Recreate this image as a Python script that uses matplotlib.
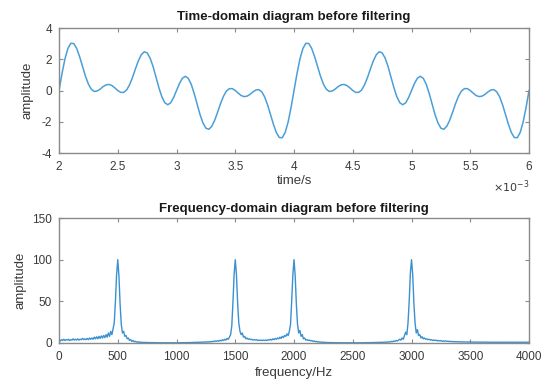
import numpy as np
import matplotlib
matplotlib.use("Agg")
import matplotlib.pyplot as plt
from matplotlib.ticker import FuncFormatter

plt.rcParams["font.family"] = ["Liberation Sans", "DejaVu Sans"]
plt.rcParams["axes.unicode_minus"] = False

# ── Data ─────────────────────────────────────────────────────────
# time-domain curve, sampled every 0.025 ms from 2 ms to 6 ms
time_start_ms = 2.0
time_step_ms = 0.025
signal = [
    0.00, 1.07, 2.01, 2.68, 3.02, 3.01, 2.70, 2.17, 1.54, 0.92,
    0.41, 0.08, -0.06, -0.03, 0.09, 0.25, 0.36, 0.39, 0.32, 0.17,
    0.00, -0.12, -0.12, 0.03, 0.36, 0.83, 1.38, 1.90, 2.29, 2.48,
    2.41, 2.08, 1.54, 0.87, 0.18, -0.40, -0.78, -0.91, -0.79, -0.45,
    0.00, 0.45, 0.79, 0.91, 0.78, 0.40, -0.18, -0.87, -1.54, -2.08,
    -2.41, -2.48, -2.29, -1.90, -1.38, -0.83, -0.36, -0.03, 0.12, 0.12,
    0.00, -0.17, -0.32, -0.39, -0.36, -0.25, -0.09, 0.03, 0.06, -0.08,
    -0.41, -0.92, -1.54, -2.17, -2.70, -3.01, -3.02, -2.68, -2.01, -1.07,
    0.00, 1.07, 2.01, 2.68, 3.02, 3.01, 2.70, 2.17, 1.54, 0.92,
    0.41, 0.08, -0.06, -0.03, 0.09, 0.25, 0.36, 0.39, 0.32, 0.17,
    0.00, -0.12, -0.12, 0.03, 0.36, 0.83, 1.38, 1.90, 2.29, 2.48,
    2.41, 2.08, 1.54, 0.87, 0.18, -0.40, -0.78, -0.91, -0.79, -0.45,
    0.00, 0.45, 0.79, 0.91, 0.78, 0.40, -0.18, -0.87, -1.54, -2.08,
    -2.41, -2.48, -2.29, -1.90, -1.38, -0.83, -0.36, -0.03, 0.12, 0.12,
    0.00, -0.17, -0.32, -0.39, -0.36, -0.25, -0.09, 0.03, 0.06, -0.08,
    -0.41, -0.92, -1.54, -2.17, -2.70, -3.01, -3.02, -2.68, -2.01, -1.07,
    0.00,
]

# spectrum magnitude, every 10 Hz from 0 to 4000 Hz
freq_step_hz = 10
spectrum = [
    3.5, 2.5, 4, 3, 4.5, 3, 4, 3.5, 4.5, 3,
    4, 3.5, 5, 3.5, 4.5, 3.5, 5, 3.5, 4.5, 4,
    5.5, 4, 5, 4, 5.5, 4, 6, 4.5, 6, 4.5,
    7, 5, 7.5, 5, 8, 5.5, 8.5, 6, 9, 6.5,
    10, 7, 12, 8, 14, 10, 17, 24, 50, 82,
    100, 80, 46, 22, 12, 14, 8, 9, 5, 6,
    3, 4, 2, 3, 1.5, 2, 1, 1.5, 0.8, 1.2,
    0.6, 0.9, 0.5, 0.8, 0.4, 0.7, 0.4, 0.6, 0.3, 0.5,
    0.3, 0.5, 0.3, 0.4, 0.2, 0.4, 0.2, 0.4, 0.2, 0.3,
    0.2, 0.3, 0.2, 0.3, 0.2, 0.3, 0.2, 0.3, 0.2, 0.3,
    0.2, 0.3, 0.2, 0.4, 0.3, 0.4, 0.3, 0.5, 0.3, 0.5,
    0.4, 0.6, 0.4, 0.7, 0.5, 0.8, 0.6, 0.9, 0.7, 1.0,
    0.8, 1.1, 0.9, 1.2, 1.0, 1.4, 1.1, 1.5, 1.2, 1.7,
    1.5, 2, 1.7, 2.5, 2, 2.8, 2.2, 3.2, 2.5, 3.8,
    3, 4.5, 3.5, 5.5, 4.5, 7, 10, 20, 48, 82,
    100, 82, 48, 24, 14, 10, 12, 7, 8, 5,
    6, 4.5, 5, 4, 4.5, 3.5, 4, 3.5, 4, 3,
    3.5, 3, 3.5, 3, 3.5, 3, 3.5, 3, 4, 3.5,
    4.5, 3.5, 5, 4, 5.5, 4.5, 6, 5, 7, 5.5,
    8, 6.5, 9, 8, 11, 9, 14, 22, 50, 82,
    100, 80, 46, 22, 12, 15, 8, 10, 5, 6,
    3.5, 4, 3, 3.5, 2.5, 3, 2, 2.5, 1.5, 2,
    1.2, 1.5, 1, 1.2, 0.8, 1, 0.6, 0.8, 0.5, 0.6,
    0.4, 0.5, 0.3, 0.5, 0.3, 0.4, 0.3, 0.4, 0.2, 0.4,
    0.2, 0.3, 0.2, 0.3, 0.2, 0.3, 0.2, 0.3, 0.2, 0.3,
    0.2, 0.3, 0.2, 0.3, 0.2, 0.3, 0.2, 0.3, 0.2, 0.4,
    0.3, 0.4, 0.3, 0.5, 0.3, 0.5, 0.4, 0.6, 0.4, 0.7,
    0.5, 0.8, 0.6, 0.9, 0.6, 1.0, 0.7, 1.1, 0.8, 1.2,
    1, 1.5, 1.2, 2, 1.5, 2.5, 2, 3, 2.5, 3.5,
    4.5, 3.5, 6, 4.5, 9, 13, 10, 24, 50, 84,
    100, 82, 48, 24, 12, 16, 9, 10, 6, 7.5,
    5, 6, 4.5, 5, 4, 4.5, 3.5, 4, 3, 3.5,
    3, 3.5, 2.5, 3, 2.5, 3, 2, 2.5, 2, 2.5,
    2, 2.2, 1.8, 2, 1.6, 1.8, 1.5, 1.7, 1.4, 1.6,
    1.3, 1.5, 1.2, 1.4, 1.2, 1.4, 1.1, 1.3, 1.1, 1.3,
    1.0, 1.2, 1.0, 1.2, 1.0, 1.2, 0.9, 1.1, 0.9, 1.1,
    0.9, 1.1, 0.9, 1.1, 0.9, 1.0, 0.8, 1.0, 0.8, 1.0,
    0.8, 1.0, 0.8, 1.0, 0.8, 1.0, 0.8, 1.0, 0.8, 1.0,
    0.8, 1.0, 0.8, 1.0, 0.8, 1.0, 0.8, 1.0, 0.8, 1.0,
    0.8, 1.0, 0.8, 1.0, 0.8, 1.0, 0.8, 1.0, 0.8, 1.0,
    0.9,
]

time_ticks = [0.002, 0.0025, 0.003, 0.0035, 0.004, 0.0045, 0.005, 0.0055, 0.006]
amp_ticks = [-4, -2, 0, 2, 4]
freq_ticks = [0, 500, 1000, 1500, 2000, 2500, 3000, 3500, 4000]
mag_ticks = [0, 50, 100, 150]

t = (time_start_ms + time_step_ms * np.arange(len(signal))) * 1e-3
f = freq_step_hz * np.arange(len(spectrum))

AX_GREY = "#8a8a8a"
TXT_GREY = "#3a3a3a"


def matlab_axes(ax):
    for sp in ax.spines.values():
        sp.set_color(AX_GREY)
        sp.set_linewidth(1.0)
    ax.tick_params(direction="in", top=True, right=True, length=3,
                   color=AX_GREY, labelcolor=TXT_GREY, labelsize=8.5)
    ax.tick_params(axis="x", pad=6)
    ax.tick_params(axis="y", pad=5)


fig = plt.figure(figsize=(5.44, 3.86), dpi=100)

# ── Time domain ──────────────────────────────────────────────────
ax1 = fig.add_axes([0.1085, 0.6036, 0.864, 0.3238])
ax1.plot(t, signal, color="#4a9fd8", linewidth=1.1)
ax1.set_xlim(0.002, 0.006)
ax1.set_ylim(-4, 4)
ax1.set_xticks(time_ticks)
ax1.set_yticks(amp_ticks)
ax1.xaxis.set_major_formatter(FuncFormatter(lambda v, p: f"{v * 1e3:g}"))
matlab_axes(ax1)
ax1.text(1.0, -0.27, r"$\times10^{-3}$", transform=ax1.transAxes,
         ha="right", va="center", fontsize=8, color=TXT_GREY)
ax1.set_title("Time-domain diagram before filtering", fontsize=9.5,
              fontweight="bold", color="#1a1a1a", pad=6)
ax1.set_xlabel("time/s", fontsize=9.5, color=TXT_GREY, labelpad=1)
ax1.set_ylabel("amplitude", fontsize=9.5, color=TXT_GREY, labelpad=6)

# ── Frequency domain ─────────────────────────────────────────────
ax2 = fig.add_axes([0.1085, 0.1114, 0.864, 0.3238])
ax2.plot(f, spectrum, color="#3a90d0", linewidth=1.0)
ax2.set_xlim(0, 4000)
ax2.set_ylim(0, 150)
ax2.set_xticks(freq_ticks)
ax2.set_yticks(mag_ticks)
matlab_axes(ax2)
ax2.set_title("Frequency-domain diagram before filtering", fontsize=9.5,
              fontweight="bold", color="#1a1a1a", pad=4)
ax2.set_xlabel("frequency/Hz", fontsize=9.5, color=TXT_GREY, labelpad=3)
ax2.set_ylabel("amplitude", fontsize=9.5, color=TXT_GREY, labelpad=4)

fig.savefig("out.png", dpi=100)
